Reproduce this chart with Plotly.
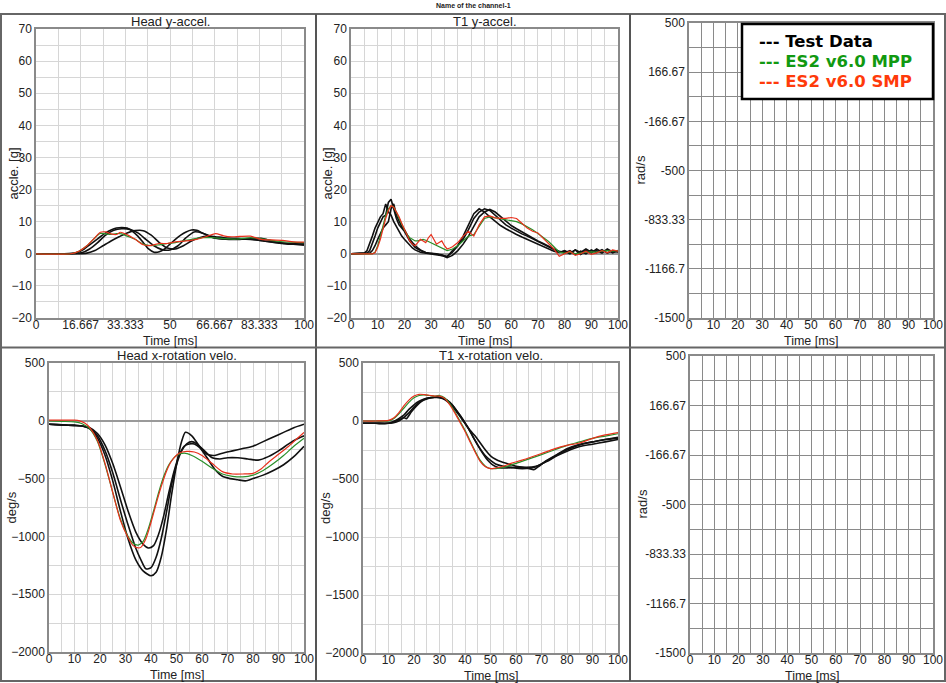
import plotly.graph_objects as go

# ---------------- DATA ----------------
# Panel 1: Head y-accel [g]
head_acc_t_test1 = [0,10,15,18,20,22,24,26,28,30,32,34,36,38,40,42,44,46,48,50,52,54,56,58,60,62,64,66,70,75,80,85,90,95,100]
head_acc_v_test1 = [0,0,0.3,1.5,2.8,4,5.3,6.5,7.4,8,8.2,8,7,5.5,3.5,1.5,0.5,0.6,1.5,3,4.5,5.8,6.8,7.4,7.3,6.5,5.7,5,4.6,4.6,4.5,4,3.5,3.2,3]
head_acc_t_test2 = [0,12,17,20,23,26,29,32,35,38,41,44,47,50,53,56,59,62,65,68,72,76,80,84,88,92,96,100]
head_acc_v_test2 = [0,0,0.3,1.5,3.5,5.8,7.3,7.8,7.6,6.5,4.5,2.5,1.3,1.2,2.5,5,6.8,6.5,5.5,4.8,4.5,4.5,4.7,4.8,4,3.3,3,2.7]
head_acc_t_test3 = [0,14,19,22,25,28,31,34,37,40,43,46,49,52,55,58,61,64,67,70,75,80,85,90,95,100]
head_acc_v_test3 = [0,0,0.2,1,2.5,4,5.3,6.5,7.2,7.2,5.8,3.5,1.8,1.5,2.5,4,5,5.5,5.3,5,4.8,4.6,4,3.4,3,3]
head_acc_t_mpp = [0,13,16,19,22,24,26,28,30,32,34,37,40,43,46,49,52,55,58,62,66,70,75,80,85,90,95,100]
head_acc_v_mpp = [0,0,0.8,2.5,5,6.3,6.2,6,6.3,6.2,5.5,4.5,3,2.5,2.8,3.2,3.5,4,4.5,5,5,4.7,4.6,5,4.6,3.9,3.6,3.5]
head_acc_t_smp = [0,13,16,19,22,24,26,28,30,31.5,33,35,37,40,43,46,49,52,56,60,64,67,70,73,76,80,84,88,92,96,100]
head_acc_v_smp = [0,0,0.8,2.5,5,6.7,6.8,6.2,6,6.7,6.3,5.5,4.5,2.8,2.6,3.2,3.2,3.7,4,4.5,5.5,6.3,5.6,5.3,5.4,5.5,4.5,4.3,4.2,3.7,3.6]

# Panel 2: T1 y-accel [g]
t1_acc_t_test = list(range(0, 31)) + list(range(32, 101, 2))
t1_acc_v_test1 = [0,0,0,0,0,0.2,1,3,5.5,8,10,11.5,12.5,15.5,13,12,10,8.5,7,5.5,4.5,3.5,2.5,1.8,1.2,0.8,0.5,0.3,0.2,0,0,
                  -0.2,-0.5,-0.8,0.5,2.5,5.5,9,12.5,14,13,11.5,10,8.8,7.8,6.8,6,5.2,4.5,3.8,3,2.4,1.5,0.8,0.4,1,0.2,1.2,-0.2,1,0.3,1.5,0.5,1.2,0.3,1]
t1_acc_v_test2 = [0,0,0,0,0,0,0.2,1,3,5.5,8,10,11.5,12,16,17,14,11,9,8,7,5.5,4,3,2,1.5,1,0.6,0.3,0.2,0,
                  0,-0.3,-1,1,2.5,4.5,7.5,11,13,14,13.5,12,10.5,9,8,7,6.2,5.5,4.6,3.8,3,2.2,1.3,0.5,0.8,0,1.2,0.4,1.5,0.5,1,0.2,1.5,0.6,0.8]
t1_acc_v_test3 = [0,0,0,0,0,0,0,0.2,1,2.5,4.5,6.5,8,9,10,14,15.5,12,10,8.5,7.5,6,4.5,3.5,2.5,1.8,1.2,0.7,0.4,0.2,0.1,
                  0,-0.5,-1.2,-0.5,1,3,5.5,8.5,11.5,13,13.8,13,11.5,10,8.8,7.8,6.8,6,5,4,3.2,2.3,1.5,0.8,0.3,1,-0.2,0.8,0,1.2,0.4,1.3,0.2,1,0.5]
t1_acc_t_sim = [0, 8] + list(range(9, 39)) + list(range(40, 101, 2))
t1_acc_v_mpp = [0,0,0.5,2.5,5.5,9,12,14,15,14.5,13,11,9,7.5,6,5,4.5,4,4,4.3,4.5,4.2,3.8,3.2,2.8,2.4,2,1.7,1.3,1,1.2,1.5,
                2.5,4,5.5,6,8.5,11,11.5,11.2,11,10.8,10.5,10,9.3,8.5,7.5,6.3,5,3.8,2.2,0.5,0.2,0.5,0,0.3,0.5,0.6,0.5,0.8,1,0.8,1]
t1_acc_v_smp = [0,0,0.3,2,4.5,8,11,13.5,15,14.5,13,11.5,9.5,7.5,5.5,4,3,2.5,3.5,4.5,4,3.5,5,6,4.5,3,3.5,4,2.5,1.5,1.8,2.2,
                3.5,5.5,7,5.5,9,11.5,11.8,11.2,11,11,11.3,11,9.5,8,7,6.5,4.8,3,1.5,-0.8,0,0.8,-0.5,0,0.8,-0.2,0.3,1,0.3,1.2,0.8]

# Panel 4: Head x-rotation velo. [deg/s]
head_rot_t_test1 = [0,5,10,13,16,19,22,25,28,31,34,37,40,42,44,46,48,50,52,53.5,56,59,62,65,68,72,76,80,84,88,92,96,100]
head_rot_v_test1 = [-30,-35,-40,-45,-70,-150,-300,-520,-780,-1020,-1200,-1300,-1340,-1310,-1180,-950,-650,-380,-180,-100,-130,-220,-290,-300,-280,-260,-240,-220,-180,-140,-100,-60,-30]
head_rot_t_test2 = [0,5,10,13,16,19,22,25,28,31,34,36,38,40,42,44,46,48,50,52,54,56,58,61,64,67,70,74,78,82,86,90,94,97,100]
head_rot_v_test2 = [-30,-35,-40,-45,-65,-130,-260,-450,-680,-900,-1100,-1200,-1280,-1270,-1180,-1020,-800,-560,-380,-260,-200,-180,-200,-260,-320,-330,-320,-320,-330,-340,-310,-260,-200,-160,-130]
head_rot_t_test3 = [0,5,10,13,16,19,22,25,28,31,34,37,39,41,43,45,47,49,51,53,55,57,59,62,65,68,71,74,77,80,84,88,92,96,100]
head_rot_v_test3 = [-30,-35,-40,-45,-60,-110,-210,-370,-570,-780,-960,-1070,-1100,-1080,-980,-820,-620,-440,-300,-220,-200,-200,-230,-320,-420,-480,-500,-510,-520,-500,-470,-430,-380,-310,-220]
head_rot_t_mpp = [0,5,10,13,16,19,22,25,28,31,33,35,37,39,41,43,45,47,50,53,56,60,64,68,72,76,80,84,88,92,96,100]
head_rot_v_mpp = [0,-5,-10,-25,-70,-180,-380,-620,-850,-1000,-1060,-1075,-1040,-930,-780,-620,-480,-380,-300,-280,-300,-350,-410,-460,-480,-485,-470,-430,-370,-300,-220,-150]
head_rot_t_smp = [0,5,10,12,14,16,19,22,25,28,31,33,35,36,38,40,42,44,46,48,51,54,57,60,64,68,72,76,80,83,86,90,94,97,100]
head_rot_v_smp = [5,5,5,0,-20,-60,-170,-370,-620,-860,-1010,-1080,-1100,-1095,-1020,-880,-720,-570,-440,-350,-280,-265,-270,-300,-370,-440,-460,-460,-455,-420,-360,-290,-220,-160,-100]

# Panel 5: T1 x-rotation velo. [deg/s]
t1_rot_t_test1 = [0,5,10,12,14,16,18,20,22,24,26,28,30,32,34,36,38,40,42,44,46,48,50,52,55,58,61,64,67,70,74,78,82,86,90,95,100]
t1_rot_v_test1 = [-20,-20,-20,-5,20,50,100,140,170,190,200,205,205,190,160,110,50,-20,-90,-170,-240,-300,-340,-370,-390,-400,-410,-410,-400,-370,-320,-270,-230,-200,-180,-160,-140]
t1_rot_t_test2 = [0,5,10,12,14,16,17,19,21,23,25,27,29,31,33,35,37,39,41,43,45,47,49,51,53,56,59,62,65,67,69,72,76,80,85,90,95,100]
t1_rot_v_test2 = [-20,-20,-20,-10,10,30,20,80,130,170,190,200,205,200,180,140,80,20,-50,-130,-210,-280,-340,-380,-400,-405,-400,-400,-410,-420,-390,-340,-290,-240,-200,-180,-160,-150]
t1_rot_t_test3 = [0,5,10,12,14,16,18,20,22,24,26,28,30,32,34,36,38,40,42,44,46,48,50,52,54,57,60,64,68,72,76,80,85,90,95,100]
t1_rot_v_test3 = [-20,-20,-20,-15,0,30,70,120,160,185,200,205,200,185,150,100,40,-20,-80,-130,-190,-250,-300,-330,-350,-370,-390,-400,-390,-350,-300,-260,-220,-200,-180,-160]
t1_rot_t_sim = [0,5,10,12,14,16,18,20,22,24,26,28,30,32,34,36,38,40,42,44,46,48,50,52,55,58,62,66,70,75,80,85,90,95,100]
t1_rot_v_mpp = [0,0,0,20,60,110,160,200,220,225,220,215,220,200,150,80,0,-80,-170,-260,-340,-390,-410,-410,-400,-380,-350,-320,-290,-250,-210,-180,-150,-130,-110]
t1_rot_v_smp = [0,0,5,25,70,130,180,215,230,228,222,215,215,195,140,70,-10,-90,-180,-270,-350,-395,-410,-405,-390,-365,-340,-310,-280,-240,-210,-190,-150,-120,-100]

# Tick labels
head_acc_xticks = [0, 16.667, 33.333, 50, 66.667, 83.333, 100]
head_acc_xticktext = ["0", "16.667", "33.333", "50", "66.667", "83.333", "100"]
rad_yticks = [500, 166.67, -166.67, -500, -833.33, -1166.7, -1500]
rad_yticktext = ["500", "166.67", "-166.67", "-500", "-833.33", "-1166.7", "-1500"]

panel_titles = ["Head y-accel.", "T1 y-accel.", "", "Head x-rotation velo.", "T1 x-rotation velo.", ""]
y_titles = ["accle. [g]", "accle. [g]", "rad/s", "deg/s", "deg/s", "rad/s"]
legend_labels = ["Test Data", "ES2 v6.0 MPP", "ES2 v6.0 SMP"]

# ---------------- STYLE / LAYOUT ----------------
W, H = 946, 683
BLACK, GREEN, RED = "#111111", "#2a8f2a", "#e8301c"
FONT = "Liberation Sans, Arial, sans-serif"


def fx(p):
    return p / W


def fy(p):
    return 1 - p / H


# plot areas in picture pixels: (left, right, top, bottom)
boxes = [(36, 304, 29, 318), (351, 618, 29, 318), (689, 933, 23, 318),
         (49, 304, 363, 652), (363, 618, 363, 653), (690, 933, 356, 653)]

fig = go.Figure()


def add_line(i, t, v, color, width, shape="linear"):
    s = "" if i == 1 else str(i)
    line = dict(color=color, width=width, shape=shape)
    if shape == "spline":
        line["smoothing"] = 0.7
    fig.add_trace(go.Scatter(x=t, y=v, mode="lines", line=line,
                             xaxis="x" + s, yaxis="y" + s,
                             showlegend=False, hoverinfo="skip"))


# Panel 1
add_line(1, head_acc_t_test1, head_acc_v_test1, BLACK, 1.6, "spline")
add_line(1, head_acc_t_test2, head_acc_v_test2, BLACK, 1.6, "spline")
add_line(1, head_acc_t_test3, head_acc_v_test3, BLACK, 1.6, "spline")
add_line(1, head_acc_t_mpp, head_acc_v_mpp, GREEN, 1.2, "spline")
add_line(1, head_acc_t_smp, head_acc_v_smp, RED, 1.2, "spline")
# Panel 2
add_line(2, t1_acc_t_test, t1_acc_v_test1, BLACK, 1.6)
add_line(2, t1_acc_t_test, t1_acc_v_test2, BLACK, 1.6)
add_line(2, t1_acc_t_test, t1_acc_v_test3, BLACK, 1.6)
add_line(2, t1_acc_t_sim, t1_acc_v_mpp, GREEN, 1.2)
add_line(2, t1_acc_t_sim, t1_acc_v_smp, RED, 1.2)
# Panel 4
add_line(4, head_rot_t_test1, head_rot_v_test1, BLACK, 1.6, "spline")
add_line(4, head_rot_t_test2, head_rot_v_test2, BLACK, 1.6, "spline")
add_line(4, head_rot_t_test3, head_rot_v_test3, BLACK, 1.6, "spline")
add_line(4, head_rot_t_mpp, head_rot_v_mpp, GREEN, 1.2, "spline")
add_line(4, head_rot_t_smp, head_rot_v_smp, RED, 1.2, "spline")
# Panel 5
add_line(5, t1_rot_t_test1, t1_rot_v_test1, BLACK, 1.6, "spline")
add_line(5, t1_rot_t_test2, t1_rot_v_test2, BLACK, 1.6, "spline")
add_line(5, t1_rot_t_test3, t1_rot_v_test3, BLACK, 1.6, "spline")
add_line(5, t1_rot_t_sim, t1_rot_v_mpp, GREEN, 1.2, "spline")
add_line(5, t1_rot_t_sim, t1_rot_v_smp, RED, 1.2, "spline")
# empty panels 3 and 6 (invisible anchor traces)
for i in (3, 6):
    add_line(i, [0, 100], [None, None], BLACK, 1)

layout = dict(width=W, height=H, autosize=False,
              margin=dict(l=0, r=0, t=0, b=0, autoexpand=False),
              paper_bgcolor="white", plot_bgcolor="white",
              font=dict(family=FONT, size=12, color="#222"))

tickfont = dict(family=FONT, size=12, color="#222")
light = "#d6d6d6"
dark = "#8a8a8a"

for i, (l, r, t, b) in enumerate(boxes, start=1):
    s = "" if i == 1 else str(i)
    empty = i in (3, 6)
    gcol = dark if empty else light
    xa = dict(domain=[fx(l), fx(r)], anchor="y" + s, range=[0, 100],
              showline=True, mirror=True, linecolor="#8a8a8a", linewidth=1.5,
              showgrid=True, gridcolor=gcol, gridwidth=1.2 if empty else 1,
              zeroline=False, ticks="", tickfont=tickfont, fixedrange=True,
              ticklabelstandoff=-5,
              minor=dict(showgrid=True, gridcolor=gcol, gridwidth=1.2 if empty else 1,
                         tick0=0, dtick=5))
    if i == 1:
        xa.update(tickmode="array", tickvals=head_acc_xticks, ticktext=head_acc_xticktext)
        xa["minor"].update(dtick=100 / 12)
    else:
        xa.update(tick0=0, dtick=10)
    ya = dict(domain=[fy(b), fy(t)], anchor="x" + s,
              showline=True, mirror=True, linecolor="#8a8a8a", linewidth=1.5,
              showgrid=True, gridcolor=gcol, gridwidth=1.2 if empty else 1,
              ticks="", tickfont=tickfont, fixedrange=True)
    if i in (1, 2):
        ya.update(range=[-20, 70], dtick=10, tick0=0,
                  zeroline=True, zerolinecolor="#9a9a9a", zerolinewidth=1.5,
                  minor=dict(showgrid=True, gridcolor=light, tick0=0, dtick=5))
    elif i in (4, 5):
        ya.update(range=[-2000, 500], dtick=500, tick0=0,
                  zeroline=True, zerolinecolor="#9a9a9a", zerolinewidth=1.5,
                  minor=dict(showgrid=True, gridcolor=light, tick0=0, dtick=250))
    else:
        ya.update(range=[-1500, 500], tickmode="array", tickvals=rad_yticks,
                  ticktext=rad_yticktext, zeroline=False,
                  minor=dict(showgrid=True, gridcolor=dark, gridwidth=1.2,
                             tick0=-1500, dtick=500 / 3))
    layout["xaxis" + s] = xa
    layout["yaxis" + s] = ya

fig.update_layout(**layout)

# Text annotations: panel titles, axis titles
ann = []
ytitle_x = [13, 327, 640, 11, 325, 642]
for i, (l, r, t, b) in enumerate(boxes):
    cx = (l + r) / 2
    if panel_titles[i]:
        ann.append(dict(x=fx(cx), y=fy(t - 8), xref="paper", yref="paper",
                        text=panel_titles[i], showarrow=False,
                        font=dict(family=FONT, size=13, color="#222"),
                        xanchor="center", yanchor="middle"))
    ann.append(dict(x=fx(cx), y=fy(b + 23), xref="paper", yref="paper",
                    text="Time [ms]", showarrow=False,
                    font=dict(family=FONT, size=12.5, color="#222"),
                    xanchor="center", yanchor="middle"))
    ann.append(dict(x=fx(ytitle_x[i]), y=fy((t + b) / 2), xref="paper", yref="paper",
                    text=y_titles[i], showarrow=False, textangle=-90,
                    font=dict(family=FONT, size=13, color="#222"),
                    xanchor="center", yanchor="middle"))

# figure title
ann.append(dict(x=fx(473), y=fy(5), xref="paper", yref="paper",
                text="<b>Name of the channel-1</b>", showarrow=False,
                font=dict(family="Liberation Sans Narrow, Liberation Sans, Arial", size=7, color="#222"),
                xanchor="center", yanchor="middle"))

# legend box text
leg_colors = ["#000000", "#119911", "#ff3a0a"]
leg_y = [41, 61, 81]
for lab, col, yy in zip(legend_labels, leg_colors, leg_y):
    ann.append(dict(x=fx(757), y=fy(yy), xref="paper", yref="paper",
                    text="<b>--- " + lab + "</b>", showarrow=False,
                    font=dict(family="DejaVu Sans, Verdana, sans-serif", size=16.5, color=col),
                    xanchor="left", yanchor="middle"))

shapes = []
# legend rectangle
shapes.append(dict(type="rect", xref="paper", yref="paper",
                   x0=fx(742), x1=fx(933), y0=fy(99), y1=fy(24),
                   line=dict(color="black", width=2.5), fillcolor="white", layer="above"))
# outer frame and dividers
fc = "#666666"
shapes.append(dict(type="rect", xref="paper", yref="paper",
                   x0=fx(1), x1=fx(945), y0=fy(681), y1=fy(14),
                   line=dict(color=fc, width=2)))
for xv in (316, 630):
    shapes.append(dict(type="line", xref="paper", yref="paper",
                       x0=fx(xv), x1=fx(xv), y0=fy(681), y1=fy(14),
                       line=dict(color="#555555", width=2)))
shapes.append(dict(type="line", xref="paper", yref="paper",
                   x0=fx(1), x1=fx(945), y0=fy(347.5), y1=fy(347.5),
                   line=dict(color=fc, width=2)))

fig.update_layout(annotations=ann, shapes=shapes)
fig.write_html(
    "out.html",
    config={"displayModeBar": False},
    post_script=(
        "document.documentElement.style.margin='0px';"
        "document.documentElement.style.overflow='hidden';"
        "document.body.style.margin='0px';document.body.style.padding='0px';"
        "document.body.style.overflow='hidden';"
        "var d=document.getElementById('{plot_id}');"
        "d.style.position='fixed';d.style.top='0px';d.style.left='0px';"
    ),
)
